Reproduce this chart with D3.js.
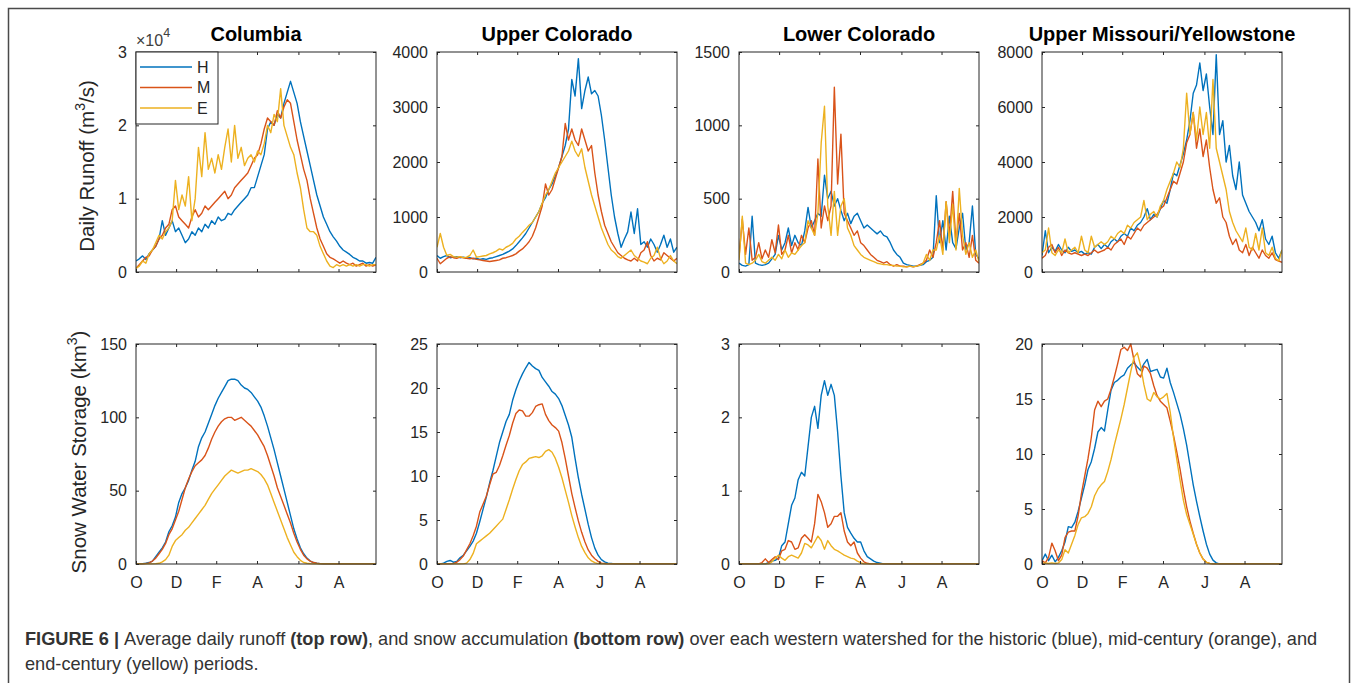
<!DOCTYPE html>
<html>
<head>
<meta charset="utf-8">
<script src="https://cdn.jsdelivr.net/npm/d3@7/dist/d3.min.js"></script>
<style>
  body { margin: 0; background: #fff; }
  svg { display: block; font-family: "Liberation Sans", Arial, Helvetica, sans-serif; }
</style>
</head>
<body>
<svg id="fig" width="1358" height="683"></svg>
<script>
// Sample days counted from 1 October (water year), every 5 days
const days = d3.range(0, 366, 5);
const monthTickDays = [0, 61, 122, 184, 247, 308];
const monthTickLabels = ["O", "D", "F", "A", "J", "A"];

const basins = ["Columbia", "Upper Colorado", "Lower Colorado", "Upper Missouri/Yellowstone"];
const periods = ["H", "M", "E"];
const periodColors = ["#0072BD", "#D95319", "#EDB120"];

const runoffMax = [30000, 4000, 1500, 8000];
const runoffTicks = [[0, 10000, 20000, 30000], [0, 1000, 2000, 3000, 4000], [0, 500, 1000, 1500], [0, 2000, 4000, 6000, 8000]];
const sweMax = [150, 25, 3, 20];
const sweTicks = [[0, 50, 100, 150], [0, 5, 10, 15, 20, 25], [0, 1, 2, 3], [0, 5, 10, 15, 20]];

// Daily runoff (m3/s)
const columbiaRunoffH = [
  1500,1800,2200,1700,2500,3000,3500,4500,7000,5000,
  6000,7000,5500,6000,5000,4000,4500,5500,5000,6000,
  5500,6500,6000,7000,6500,7500,7000,7200,8000,7800,
  8500,9000,9500,10000,10500,11500,11500,13000,14500,16000,
  19500,20500,20000,21500,21000,23000,24500,26000,24500,23000,
  20500,18500,16500,14500,12500,10500,9000,7500,6500,5500,
  4800,4200,3500,3000,2700,2400,2000,1800,1500,1500,
  1200,1300,1200,2000];
const columbiaRunoffM = [
  500,1000,1500,2000,2200,3000,3500,4500,5000,6000,
  6500,8500,9000,7500,7000,6500,6000,7500,8500,7500,
  8000,9000,8500,9000,9500,10000,10500,11000,10000,10500,
  11500,12000,12500,13000,13500,14500,15500,16000,17500,19500,
  21000,20500,20000,22000,21000,22500,23500,23000,20500,18000,
  16000,14000,12500,10000,8000,6000,4500,3500,2500,2000,
  1800,1500,1200,1500,1200,1000,1200,800,1000,1200,
  800,1000,800,1000];
const columbiaRunoffE = [
  500,800,1500,1200,2500,3000,4000,5000,4500,5500,
  6000,7000,12500,8500,10500,9000,13000,7000,10000,17000,
  13000,19000,14000,15500,13500,16000,14000,17000,19500,15000,
  20000,15500,17000,14500,15500,16000,15000,16500,16000,17500,
  20000,19000,21500,20500,25000,20000,18500,17000,16000,13500,
  11500,8500,6000,5500,5500,5000,3500,2500,1500,800,
  600,1000,800,1000,800,1000,800,1000,800,1000,
  1000,800,1000,1000];

const upperColoradoRunoffH = [
  300,250,280,300,260,270,280,260,270,250,
  260,240,250,230,240,230,250,260,280,300,
  320,350,380,420,480,550,620,700,800,900,
  1000,1100,1250,1350,1500,1600,1750,1900,2100,2300,
  2600,3500,3200,3880,2970,3300,3545,3240,3300,3200,
  2850,2400,1900,1400,1000,700,450,600,730,1090,
  700,1150,500,550,450,600,500,360,500,670,
  450,600,360,450];
const upperColoradoRunoffM = [
  250,150,200,250,280,260,250,270,260,250,
  240,250,230,220,210,200,190,200,210,220,
  250,260,280,300,330,380,420,480,550,650,
  800,1000,1200,1600,1400,1500,1700,1900,2100,2700,
  2400,2600,2400,2300,2600,2400,2200,2300,1800,1400,
  1100,850,700,550,450,350,300,250,220,200,
  250,200,350,400,550,300,200,250,220,350,
  300,250,200,250];
const upperColoradoRunoffE = [
  450,700,450,300,320,280,270,280,260,270,
  300,400,270,280,290,300,330,350,380,420,
  400,450,480,520,600,650,720,780,850,900,
  1000,1100,1250,1400,1500,1650,1800,1900,2000,2100,
  2200,2380,2200,2100,2240,1900,1650,1400,1200,1000,
  800,650,500,400,350,280,250,300,350,400,
  300,250,200,180,150,250,300,450,250,150,
  200,300,200,150];

const lowerColoradoRunoffH = [
  60,45,40,50,380,60,50,45,50,60,
  90,120,250,150,200,300,180,250,200,180,
  280,440,300,350,400,380,660,500,550,450,
  500,420,350,400,330,380,400,350,300,320,
  300,280,260,280,250,240,200,150,120,100,
  60,50,45,40,40,45,50,70,80,100,
  520,200,350,150,380,200,160,300,400,150,
  200,450,120,90];
const lowerColoradoRunoffM = [
  100,360,120,300,80,100,200,90,150,100,
  220,130,320,120,150,250,130,200,150,250,
  200,300,350,250,770,300,450,350,450,1260,
  600,940,400,350,300,250,280,200,180,150,
  120,100,80,70,60,70,50,40,50,40,
  40,35,40,35,40,50,60,80,150,100,
  200,350,150,480,250,550,200,400,150,200,
  100,250,80,60];
const lowerColoradoRunoffE = [
  80,380,60,50,60,80,120,70,60,80,
  100,80,120,90,150,100,130,120,150,180,
  200,350,300,250,400,880,1130,450,250,550,
  250,450,500,300,250,180,150,120,100,90,
  80,70,60,55,50,50,45,45,40,40,
  35,35,40,35,40,45,60,120,80,150,
  150,250,120,480,200,460,150,570,250,120,
  200,100,150,70];

const upperMissouriRunoffH = [
  600,1500,700,900,750,1000,800,700,900,750,
  800,700,750,650,700,650,900,1000,850,1000,
  900,1100,1200,1100,1300,1400,1300,1600,1500,1700,
  1800,2000,2300,1900,2100,2000,2300,2600,2500,3000,
  3600,3500,3900,4300,4800,5500,6500,6800,7600,6600,
  7200,6000,5000,7900,5000,5500,4000,4600,3500,3000,
  4000,2800,2500,2200,2000,1800,1500,1900,1200,1000,
  1300,700,500,800];
const upperMissouriRunoffM = [
  500,600,900,1000,700,900,600,800,700,650,
  700,650,600,650,600,700,800,700,750,800,
  900,800,1000,1100,1200,1000,1300,1200,1400,1600,
  1500,1700,1800,1900,2000,2100,2300,2400,2700,3000,
  3300,3200,3600,4000,4700,5000,5800,4500,5200,4200,
  4800,3800,3000,2500,2700,2000,1800,1300,1000,1200,
  800,700,1000,600,900,700,500,800,600,500,
  700,450,400,350];
const upperMissouriRunoffE = [
  700,800,1600,700,600,800,700,1200,700,800,
  900,700,1300,800,700,1300,900,1000,1100,1000,
  1100,1300,1200,1400,1500,1400,1700,1600,1800,1900,
  2000,2600,1900,2100,2200,2000,2400,2600,3000,3300,
  3600,4000,3800,4500,6500,5000,5800,4800,6000,5000,
  5800,4500,7000,4500,4000,3500,3000,2200,1800,1500,
  1300,1100,1600,900,800,1400,800,1600,700,600,
  900,500,400,800];

// Snow water storage (km3)
const columbiaSweH = [
  0,0,0.2,0.5,1,2,5,8,11,15,
  22,26,32,42,48,52,57,64,70,80,
  86,90,96,102,108,113,117,121,125,126,
  126,125,122,120,119,117,114,111,107,101,
  94,86,78,69,60,51,42,33,24,17,
  11,7,4,2,1,0.5,0.2,0,0,0,
  0,0,0,0,0,0,0,0,0,0,
  0,0,0,0];
const columbiaSweM = [
  0,0,0,0.3,0.8,2,4,7,10,14,
  20,24,30,36,44,52,58,63,67,69,
  71,74,79,85,90,94,97,99,100,100,
  98,99,100,98,96,94,91,88,84,80,
  74,67,60,52,46,40,34,28,21,15,
  10,6,3.5,2,1,0.5,0.2,0,0,0,
  0,0,0,0,0,0,0,0,0,0,
  0,0,0,0];
const columbiaSweE = [
  0,0,0,0,0,0,0.2,0.5,1.5,3,
  6,12,16,18,20,23,25,28,31,34,
  37,40,44,48,51,54,57,60,62,64,
  63,62,63,64,64,65,64,63,61,58,
  54,48,42,36,30,24,18,13,8,5,
  2.5,1,0.5,0.2,0,0,0,0,0,0,
  0,0,0,0,0,0,0,0,0,0,
  0,0,0,0];

const upperColoradoSweH = [
  0,0,0.1,0.3,0.4,0.2,0.3,0.7,1.0,1.5,
  2.0,2.6,3.5,4.8,6.2,7.6,9.2,10.6,12.2,13.8,
  15.0,16.2,17.0,18.6,19.8,20.8,21.6,22.3,22.9,22.5,
  22.2,22.0,21.2,20.7,20.2,19.6,19.3,18.8,18.0,16.9,
  15.8,14.4,12.0,9.8,7.9,6.2,4.5,3.0,1.8,1.0,
  0.5,0.25,0.1,0.05,0,0,0,0,0,0,
  0,0,0,0,0,0,0,0,0,0,
  0,0,0,0];
const upperColoradoSweM = [
  0,0,0,0,0,0.05,0.2,0.5,0.9,1.6,
  2.3,3.2,4.3,5.9,6.8,7.7,9.0,10.2,10.4,11.2,
  12.3,13.5,14.6,16.0,17.1,17.5,17.4,16.8,16.8,17.2,
  17.9,18.1,18.2,17.0,16.3,15.8,15.5,15.1,13.8,12.0,
  10.0,8.0,6.4,4.9,3.6,2.5,1.6,1.0,0.6,0.3,
  0.1,0.05,0,0,0,0,0,0,0,0,
  0,0,0,0,0,0,0,0,0,0,
  0,0,0,0];
const upperColoradoSweE = [
  0,0,0,0,0,0,0,0,0.02,0.1,
  0.5,1.2,2.3,2.6,2.9,3.2,3.5,3.9,4.3,4.7,
  5.1,6.2,7.3,8.5,9.6,10.6,11.3,11.6,12.0,12.1,
  12.2,12.1,12.3,12.8,13.0,12.7,12.0,11.0,9.8,8.4,
  7.0,5.5,4.2,3.0,2.0,1.3,0.7,0.35,0.15,0.05,
  0,0,0,0,0,0,0,0,0,0,
  0,0,0,0,0,0,0,0,0,0,
  0,0,0,0];

const lowerColoradoSweH = [
  0,0,0,0,0,0,0,0,0,0.02,
  0.04,0.05,0.08,0.25,0.3,0.55,0.8,0.9,1.15,1.25,
  1.2,1.6,2.0,2.15,1.85,2.3,2.5,2.3,2.45,2.3,
  1.8,1.2,0.7,0.5,0.42,0.35,0.3,0.3,0.18,0.1,
  0.07,0.04,0.02,0.01,0,0,0,0,0,0,
  0,0,0,0,0,0,0,0,0,0,
  0,0,0,0,0,0,0,0,0,0,
  0,0,0,0];
const lowerColoradoSweM = [
  0,0,0,0,0,0,0,0.02,0.07,0.02,
  0.06,0.1,0.06,0.18,0.2,0.32,0.3,0.2,0.22,0.35,
  0.4,0.35,0.3,0.55,0.95,0.85,0.7,0.5,0.55,0.65,
  0.65,0.7,0.45,0.3,0.25,0.3,0.15,0.08,0.03,0.01,
  0,0,0,0,0,0,0,0,0,0,
  0,0,0,0,0,0,0,0,0,0,
  0,0,0,0,0,0,0,0,0,0,
  0,0,0,0];
const lowerColoradoSweE = [
  0,0,0,0,0,0,0,0,0,0,
  0.03,0.08,0.12,0.08,0.05,0.1,0.12,0.1,0.08,0.15,
  0.28,0.26,0.22,0.3,0.38,0.32,0.2,0.32,0.25,0.2,
  0.18,0.15,0.12,0.1,0.08,0.07,0.04,0.02,0,0,
  0,0,0,0,0,0,0,0,0,0,
  0,0,0,0,0,0,0,0,0,0,
  0,0,0,0,0,0,0,0,0,0,
  0,0,0,0];

const upperMissouriSweH = [
  0.3,0.9,0.3,0.8,0.2,0.6,1.2,2.0,3.4,3.3,
  3.8,4.8,6.0,7.2,8.6,9.3,10.5,12.0,12.4,12.1,
  14.0,15.8,16.5,16.7,17.0,17.2,17.8,18.1,18.3,17.9,
  17.6,18.2,18.6,17.5,17.6,17.7,17.0,16.9,17.8,16.5,
  15.6,14.6,13.6,12.3,10.8,9.0,7.2,5.7,4.3,3.0,
  1.8,0.9,0.35,0.1,0,0,0,0,0,0,
  0,0,0,0,0,0,0,0,0,0,
  0,0,0,0];
const upperMissouriSweM = [
  0.3,0.1,0.6,1.9,1.2,0.3,0.8,2.4,2.9,3.0,
  3.0,4.4,6.4,8.0,9.6,11.5,14.0,14.8,14.3,14.8,
  15.0,15.9,17.0,18.2,19.5,19.7,19.4,20.0,18.5,17.3,
  17.0,18.0,17.8,17.3,16.2,15.3,14.8,14.5,14.2,13.0,
  11.7,10.2,8.6,6.8,5.2,3.9,2.8,1.8,1.0,0.45,
  0.15,0.05,0,0,0,0,0,0,0,0,
  0,0,0,0,0,0,0,0,0,0,
  0,0,0,0];
const upperMissouriSweE = [
  0.05,0.1,0.05,0.1,0.05,0.1,0.4,1.3,1.0,1.8,
  2.6,3.6,4.2,4.3,4.6,5.2,6.2,6.8,7.2,7.5,
  8.4,9.5,10.8,12.0,13.2,14.5,16.0,17.5,18.8,19.2,
  18.0,16.3,15.0,14.8,15.6,15.2,15.0,15.2,15.5,13.8,
  11.5,9.5,7.6,5.8,4.5,3.6,2.7,1.8,1.0,0.45,
  0.15,0.05,0,0,0,0,0,0,0,0,
  0,0,0,0,0,0,0,0,0,0,
  0,0,0,0];

const runoffSeries = [
  [columbiaRunoffH, columbiaRunoffM, columbiaRunoffE],
  [upperColoradoRunoffH, upperColoradoRunoffM, upperColoradoRunoffE],
  [lowerColoradoRunoffH, lowerColoradoRunoffM, lowerColoradoRunoffE],
  [upperMissouriRunoffH, upperMissouriRunoffM, upperMissouriRunoffE]
];
const sweSeries = [
  [columbiaSweH, columbiaSweM, columbiaSweE],
  [upperColoradoSweH, upperColoradoSweM, upperColoradoSweE],
  [lowerColoradoSweH, lowerColoradoSweM, lowerColoradoSweE],
  [upperMissouriSweH, upperMissouriSweM, upperMissouriSweE]
];

const captionText = [
  [{ t: "FIGURE 6 | ", b: true }, { t: "Average daily runoff ", b: false }, { t: "(top row)", b: true },
   { t: ", and snow accumulation ", b: false }, { t: "(bottom row)", b: true },
   { t: " over each western watershed for the historic (blue), mid-century (orange), and", b: false }],
  [{ t: "end-century (yellow) periods.", b: false }]
];

// ---- layout ----
const svg = d3.select("#fig");
const axisInk = "#262626";
const panelLefts = [136, 437, 739, 1042];
const panelW = 240;
const rows = [{ top: 52, h: 220 }, { top: 344, h: 220 }];

svg.append("rect").attr("width", 1358).attr("height", 683).attr("fill", "#fff");
svg.append("rect")
  .attr("x", 8.5).attr("y", 8.5).attr("width", 1341).attr("height", 720)
  .attr("fill", "none").attr("stroke", "#4a4a4a").attr("stroke-width", 1.5);

function drawPanel(col, row, yMax, yTicks, series, tickFmt, showMonths) {
  const x0 = panelLefts[col], y0 = rows[row].top, h = rows[row].h;
  const x = d3.scaleLinear().domain([0, 365]).range([x0, x0 + panelW]);
  const y = d3.scaleLinear().domain([0, yMax]).range([y0 + h, y0]);
  const g = svg.append("g");
  const clipId = `clip-${row}-${col}`;
  g.append("clipPath").attr("id", clipId)
    .append("rect").attr("x", x0).attr("y", y0 - 1).attr("width", panelW).attr("height", h + 1.5);

  const line = d3.line().x((d, i) => x(days[i])).y(d => y(d));
  const lines = g.append("g").attr("clip-path", `url(#${clipId})`);
  series.forEach((s, k) => {
    lines.append("path").datum(s)
      .attr("d", line)
      .attr("fill", "none")
      .attr("stroke", periodColors[k])
      .attr("stroke-width", 1.4)
      .attr("stroke-linejoin", "round");
  });

  // axes with inward ticks on all four sides
  const styleAxis = sel => {
    sel.select(".domain").remove();
    sel.selectAll(".tick line").attr("stroke", axisInk);
    sel.selectAll(".tick text").attr("fill", axisInk).style("font-size", "16px")
      .style("font-family", "'Liberation Sans', Arial, sans-serif");
  };
  g.append("g").attr("transform", `translate(${x0},0)`)
    .call(d3.axisLeft(y).tickValues(yTicks).tickSize(-3).tickPadding(9).tickFormat(tickFmt))
    .call(styleAxis);
  g.append("g").attr("transform", `translate(${x0 + panelW},0)`)
    .call(d3.axisRight(y).tickValues(yTicks).tickSize(-3).tickFormat(""))
    .call(styleAxis);
  g.append("g").attr("transform", `translate(0,${y0 + h})`)
    .call(d3.axisBottom(x).tickValues(monthTickDays).tickSize(-3).tickPadding(13)
      .tickFormat((d, i) => showMonths ? monthTickLabels[i] : ""))
    .call(styleAxis);
  g.append("g").attr("transform", `translate(0,${y0})`)
    .call(d3.axisTop(x).tickValues(monthTickDays).tickSize(-3).tickFormat(""))
    .call(styleAxis);

  g.append("rect")
    .attr("x", x0).attr("y", y0).attr("width", panelW).attr("height", h)
    .attr("fill", "none").attr("stroke", axisInk).attr("stroke-width", 1);
  return g;
}

basins.forEach((name, c) => {
  const fmtTop = c === 0 ? (d => d3.format("d")(d / 1e4)) : d3.format("d");
  drawPanel(c, 0, runoffMax[c], runoffTicks[c], runoffSeries[c], fmtTop, false);
  drawPanel(c, 1, sweMax[c], sweTicks[c], sweSeries[c], d3.format("d"), true);

  svg.append("text")
    .attr("x", panelLefts[c] + panelW / 2).attr("y", 41)
    .attr("text-anchor", "middle")
    .style("font-size", "20px").style("font-weight", "bold").attr("fill", "#000")
    .text(name);
});

// exponent label for the Columbia runoff axis
const expo = svg.append("text").attr("x", 136).attr("y", 46).attr("fill", "#404040").style("font-size", "16px");
expo.append("tspan").text("\u00d710");
expo.append("tspan").attr("dy", -9).style("font-size", "12.5px").text("4");

// legend
const leg = svg.append("g");
leg.append("rect").attr("x", 136).attr("y", 52).attr("width", 82).attr("height", 72)
  .attr("fill", "#fff").attr("stroke", axisInk).attr("stroke-width", 1);
periods.forEach((p, k) => {
  const ly = 67 + k * 20.5;
  leg.append("line").attr("x1", 140).attr("x2", 192).attr("y1", ly).attr("y2", ly)
    .attr("stroke", periodColors[k]).attr("stroke-width", 1.4);
  leg.append("text").attr("x", 197).attr("y", ly).attr("dy", "0.36em")
    .style("font-size", "16px").attr("fill", axisInk).text(p);
});

// y-axis titles
function yTitle(xc, yc, main, sup, tail) {
  const t = svg.append("text")
    .attr("transform", `translate(${xc},${yc}) rotate(-90)`)
    .attr("text-anchor", "middle").style("font-size", "20.5px").attr("fill", axisInk);
  t.append("tspan").text(main);
  t.append("tspan").attr("dy", -9).style("font-size", "14px").text(sup);
  t.append("tspan").attr("dy", 9).text(tail);
}
yTitle(94, 166, "Daily Runoff (m", "3", "/s)");
yTitle(86, 452, "Snow Water Storage (km", "3", ")");

// caption
captionText.forEach((line, i) => {
  const t = svg.append("text").attr("x", 25).attr("y", 645 + i * 25)
    .style("font-size", "18.2px").attr("fill", "#333");
  line.forEach(part => {
    t.append("tspan").style("font-weight", part.b ? "bold" : "normal").text(part.t);
  });
});
</script>
</body>
</html>
